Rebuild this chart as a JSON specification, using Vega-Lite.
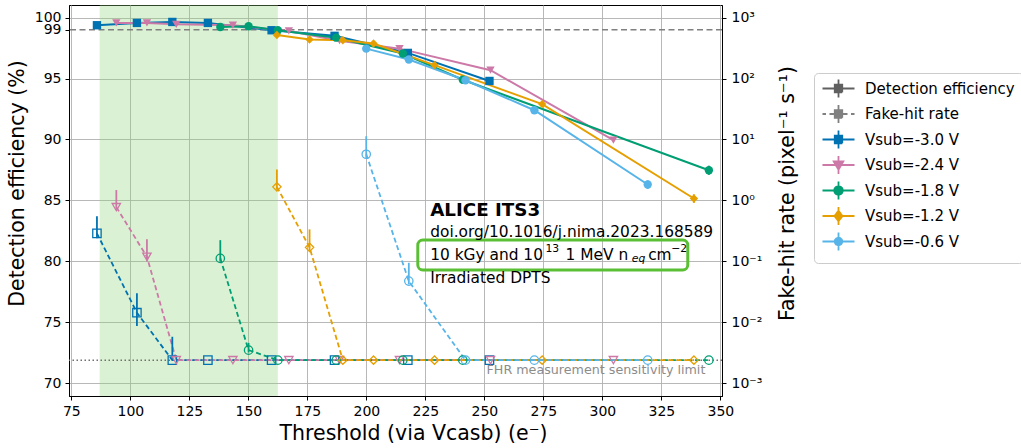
{
  "$schema": "https://vega.github.io/schema/vega-lite/v6.json",
  "width": 653,
  "height": 391,
  "autosize": {"type": "none"},
  "padding": {"left": 69, "top": 5, "right": 299, "bottom": 52},
  "background": "#ffffff",
  "config": {
    "font": "DejaVu Sans",
    "view": {"stroke": "#000000", "strokeWidth": 1},
    "axis": {
      "labelFont": "DejaVu Sans", "titleFont": "DejaVu Sans",
      "labelFontSize": 14, "titleFontSize": 20.5, "titleFontWeight": "normal",
      "labelColor": "#000000", "titleColor": "#000000",
      "tickColor": "#000000", "domainColor": "#000000", "tickSize": 4,
      "gridColor": "#b0b0b0", "gridWidth": 0.9, "labelOverlap": false
    }
  },
  "datasets": {
    "eff": [
      {"series": "Vsub=-3.0 V", "x": 85.84, "eff": 99.37},
      {"series": "Vsub=-3.0 V", "x": 102.78, "eff": 99.56},
      {"series": "Vsub=-3.0 V", "x": 117.78, "eff": 99.64},
      {"series": "Vsub=-3.0 V", "x": 132.86, "eff": 99.56},
      {"series": "Vsub=-3.0 V", "x": 159.84, "eff": 98.96},
      {"series": "Vsub=-3.0 V", "x": 186.52, "eff": 98.5},
      {"series": "Vsub=-3.0 V", "x": 217.57, "eff": 97.1},
      {"series": "Vsub=-3.0 V", "x": 252.17, "eff": 94.8},
      {"series": "Vsub=-2.4 V", "x": 94.06, "eff": 99.56},
      {"series": "Vsub=-2.4 V", "x": 107.02, "eff": 99.56},
      {"series": "Vsub=-2.4 V", "x": 119.47, "eff": 99.45},
      {"series": "Vsub=-2.4 V", "x": 143.44, "eff": 99.37},
      {"series": "Vsub=-2.4 V", "x": 167.16, "eff": 98.9},
      {"series": "Vsub=-2.4 V", "x": 188.64, "eff": 98.1},
      {"series": "Vsub=-2.4 V", "x": 214.05, "eff": 97.45},
      {"series": "Vsub=-2.4 V", "x": 252.6, "eff": 95.68},
      {"series": "Vsub=-2.4 V", "x": 304.69, "eff": 89.94},
      {"series": "Vsub=-1.8 V", "x": 138.11, "eff": 99.23},
      {"series": "Vsub=-1.8 V", "x": 150.09, "eff": 99.29},
      {"series": "Vsub=-1.8 V", "x": 162.5, "eff": 98.96},
      {"series": "Vsub=-1.8 V", "x": 187.24, "eff": 98.35},
      {"series": "Vsub=-1.8 V", "x": 215.45, "eff": 97.05},
      {"series": "Vsub=-1.8 V", "x": 240.86, "eff": 94.9},
      {"series": "Vsub=-1.8 V", "x": 345.14, "eff": 87.48, "lo": 87.1, "hi": 87.85},
      {"series": "Vsub=-1.2 V", "x": 162.08, "eff": 98.57},
      {"series": "Vsub=-1.2 V", "x": 175.93, "eff": 98.2},
      {"series": "Vsub=-1.2 V", "x": 190.04, "eff": 98.14},
      {"series": "Vsub=-1.2 V", "x": 203.04, "eff": 97.87},
      {"series": "Vsub=-1.2 V", "x": 228.88, "eff": 96.1},
      {"series": "Vsub=-1.2 V", "x": 274.49, "eff": 92.9},
      {"series": "Vsub=-1.2 V", "x": 338.8, "eff": 85.16, "lo": 84.8, "hi": 85.5},
      {"series": "Vsub=-0.6 V", "x": 199.95, "eff": 97.45},
      {"series": "Vsub=-0.6 V", "x": 217.99, "eff": 96.56},
      {"series": "Vsub=-0.6 V", "x": 242.0, "eff": 94.86},
      {"series": "Vsub=-0.6 V", "x": 271.2, "eff": 92.4},
      {"series": "Vsub=-0.6 V", "x": 319.22, "eff": 86.31, "lo": 85.95, "hi": 86.65}
    ],
    "fhr": [
      {"series": "Vsub=-3.0 V", "x": 85.84, "fhr": 0.288, "lo": 0.24, "hi": 0.55},
      {"series": "Vsub=-3.0 V", "x": 102.78, "fhr": 0.0144, "lo": 0.0087, "hi": 0.03},
      {"series": "Vsub=-3.0 V", "x": 117.78, "fhr": 0.0024, "lo": 0.0024, "hi": 0.0058},
      {"series": "Vsub=-3.0 V", "x": 132.86, "fhr": 0.0024},
      {"series": "Vsub=-3.0 V", "x": 159.84, "fhr": 0.0024},
      {"series": "Vsub=-3.0 V", "x": 186.52, "fhr": 0.0024},
      {"series": "Vsub=-3.0 V", "x": 217.57, "fhr": 0.0024},
      {"series": "Vsub=-3.0 V", "x": 252.17, "fhr": 0.0024},
      {"series": "Vsub=-2.4 V", "x": 94.06, "fhr": 0.776, "lo": 0.7, "hi": 1.48},
      {"series": "Vsub=-2.4 V", "x": 107.02, "fhr": 0.119, "lo": 0.1, "hi": 0.23},
      {"series": "Vsub=-2.4 V", "x": 119.47, "fhr": 0.0024},
      {"series": "Vsub=-2.4 V", "x": 143.44, "fhr": 0.0024},
      {"series": "Vsub=-2.4 V", "x": 167.16, "fhr": 0.0024},
      {"series": "Vsub=-2.4 V", "x": 188.64, "fhr": 0.0024},
      {"series": "Vsub=-2.4 V", "x": 214.05, "fhr": 0.0024},
      {"series": "Vsub=-2.4 V", "x": 252.6, "fhr": 0.0024},
      {"series": "Vsub=-2.4 V", "x": 304.69, "fhr": 0.0024},
      {"series": "Vsub=-1.8 V", "x": 138.11, "fhr": 0.112, "lo": 0.1, "hi": 0.223},
      {"series": "Vsub=-1.8 V", "x": 150.09, "fhr": 0.0035, "lo": 0.0032, "hi": 0.0046},
      {"series": "Vsub=-1.8 V", "x": 162.5, "fhr": 0.0024},
      {"series": "Vsub=-1.8 V", "x": 187.24, "fhr": 0.0024},
      {"series": "Vsub=-1.8 V", "x": 215.45, "fhr": 0.0024},
      {"series": "Vsub=-1.8 V", "x": 240.86, "fhr": 0.0024},
      {"series": "Vsub=-1.8 V", "x": 345.14, "fhr": 0.0024},
      {"series": "Vsub=-1.2 V", "x": 162.08, "fhr": 1.67, "lo": 1.5, "hi": 3.22},
      {"series": "Vsub=-1.2 V", "x": 175.93, "fhr": 0.17, "lo": 0.15, "hi": 0.335},
      {"series": "Vsub=-1.2 V", "x": 190.04, "fhr": 0.0024},
      {"series": "Vsub=-1.2 V", "x": 203.04, "fhr": 0.0024},
      {"series": "Vsub=-1.2 V", "x": 228.88, "fhr": 0.0024},
      {"series": "Vsub=-1.2 V", "x": 274.49, "fhr": 0.0024},
      {"series": "Vsub=-1.2 V", "x": 338.8, "fhr": 0.0024},
      {"series": "Vsub=-0.6 V", "x": 199.95, "fhr": 5.72, "lo": 5.0, "hi": 11.3},
      {"series": "Vsub=-0.6 V", "x": 217.99, "fhr": 0.0475, "lo": 0.042, "hi": 0.0948},
      {"series": "Vsub=-0.6 V", "x": 242.0, "fhr": 0.0024},
      {"series": "Vsub=-0.6 V", "x": 271.2, "fhr": 0.0024},
      {"series": "Vsub=-0.6 V", "x": 319.22, "fhr": 0.0024}
    ],
    "boldnote": [{"t": "ALICE ITS3", "x": 227.05, "y": 84.16}],
    "note": [
      {"t": "doi.org/10.1016/j.nima.2023.168589", "x": 227.05, "y": 82.4},
      {"t": "10 kGy and 10", "x": 227.05, "y": 80.5},
      {"t": "1 MeV n", "x": 284.4, "y": 80.5},
      {"t": "cm", "x": 319.4, "y": 80.5},
      {"t": "Irradiated DPTS", "x": 227.05, "y": 78.67}
    ],
    "supnote": [
      {"t": "13", "x": 275.9, "y": 80.5},
      {"t": "−2", "x": 329.2, "y": 80.5}
    ],
    "subnote": [{"t": "eq", "x": 312.5, "y": 80.5}],
    "limitnote": [{"t": "FHR measurement sensitivity limit", "x": 343.65, "y": 71.09}]
  },
  "layer": [
    {
      "layer": [
        {
          "data": {"values": [{}]},
          "mark": {"type": "rect", "fill": "#8FD97A", "opacity": 0.33},
          "encoding": {
            "x": {"datum": 87.0, "type": "quantitative",
                  "scale": {"domain": [74, 350.7], "nice": false, "zero": false},
                  "axis": {"title": "Threshold (via Vcasb) (e⁻)", "values": [75,100,125,150,175,200,225,250,275,300,325,350], "grid": true, "labelPadding": 4, "titlePadding": 5, "titleX": 344}},
            "x2": {"datum": 162.5},
            "y": {"datum": 68.96, "type": "quantitative", "scale": {"domain": [68.96, 101.03], "nice": false, "zero": false}},
            "y2": {"datum": 101.03}
          }
        },
        {
          "data": {"values": [{}]},
          "mark": {"type": "rule", "stroke": "#808080", "strokeDash": [6, 3.5], "strokeWidth": 1.6},
          "encoding": {
            "y": {"datum": 99, "type": "quantitative", "scale": {"domain": [68.96, 101.03], "nice": false, "zero": false}}
          }
        },
        {
          "data": {"name": "eff"},
          "mark": {"type": "line", "strokeWidth": 2},
          "encoding": {
            "x": {"field": "x", "type": "quantitative", "scale": {"domain": [74, 350.7], "nice": false, "zero": false}},
            "y": {"field": "eff", "type": "quantitative",
                  "scale": {"domain": [68.96, 101.03], "nice": false, "zero": false},
                  "axis": {"title": "Detection efficiency (%)", "values": [70,75,80,85,90,95,99,100], "grid": false, "labelPadding": 4, "titlePadding": 7, "titleY": 178}},
            "color": {"field": "series", "type": "nominal",
              "scale": {"domain": ["Detection efficiency", "Fake-hit rate", "Vsub=-3.0 V", "Vsub=-2.4 V", "Vsub=-1.8 V", "Vsub=-1.2 V", "Vsub=-0.6 V"],
                        "range": ["#606060", "#808080", "#0072B2", "#CC79A7", "#009E73", "#E69F00", "#56B4E9"]},
              "legend": {
                "title": null, "orient": "none", "legendX": 745, "legendY": 68, "direction": "vertical",
                "labelFont": "DejaVu Sans", "labelFontSize": 15, "labelColor": "#000000", "labelLimit": 300,
                "symbolSize": 100, "symbolOffset": 9, "labelOffset": 19, "rowPadding": -1.5, "padding": 8,
                "strokeColor": "#cccccc", "fillColor": "#ffffff", "cornerRadius": 4,
                "encode": {
                  "symbols": {
                    "update": {
                      "shape": {"signal": "datum.value === 'Detection efficiency' ? 'M-3.2,0H3.2M0,-1.8V1.8M-0.75,-0.75H0.75V0.75H-0.75Z' : datum.value === 'Fake-hit rate' ? 'M-3.2,0H-2.5M-1.8,0H-0.75M0.75,0H1.8M2.5,0H3.2M0,-1.8V1.8M-0.75,-0.75H0.75V0.75H-0.75Z' : datum.value === 'Vsub=-3.0 V' ? 'M-3.2,0H3.2M0,-1.8V1.8M-0.75,-0.75H0.75V0.75H-0.75Z' : datum.value === 'Vsub=-2.4 V' ? 'M-3.2,0H3.2M0,-1.8V1.8M-0.95,-0.7H0.95L0,0.95Z' : datum.value === 'Vsub=-1.8 V' ? 'M-3.2,0H3.2M0,-1.8V1.8M-0.85,0A0.85,0.85 0 1,0 0.85,0A0.85,0.85 0 1,0 -0.85,0Z' : datum.value === 'Vsub=-1.2 V' ? 'M-3.2,0H3.2M0,-1.8V1.8M0,-1.05L0.8,0L0,1.05L-0.8,0Z' : 'M-3.2,0H3.2M0,-1.8V1.8M-0.75,0A0.75,0.75 0 1,0 0.75,0A0.75,0.75 0 1,0 -0.75,0Z'"},
                      "stroke": {"scale": "color", "field": "value"},
                      "fill": {"signal": "datum.value === 'Fake-hit rate' ? 'transparent' : scale('color', datum.value)"},
                      "strokeWidth": {"value": 1.8},
                      "strokeDash": {"value": [1, 0]},
                      "opacity": {"value": 1}
                    }
                  }
                }
              }
            }
          }
        },
        {
          "data": {"name": "eff"},
          "transform": [{"filter": "datum.hi != null"}],
          "mark": {"type": "rule", "strokeWidth": 2},
          "encoding": {
            "x": {"field": "x", "type": "quantitative", "scale": {"domain": [74, 350.7], "nice": false, "zero": false}},
            "y": {"field": "lo", "type": "quantitative", "scale": {"domain": [68.96, 101.03], "nice": false, "zero": false}},
            "y2": {"field": "hi"},
            "color": {"field": "series", "type": "nominal"}
          }
        },
        {
          "data": {"name": "eff"},
          "mark": {"type": "point", "filled": true, "size": 70, "opacity": 1},
          "encoding": {
            "x": {"field": "x", "type": "quantitative", "scale": {"domain": [74, 350.7], "nice": false, "zero": false}},
            "y": {"field": "eff", "type": "quantitative", "scale": {"domain": [68.96, 101.03], "nice": false, "zero": false}},
            "color": {"field": "series", "type": "nominal"},
            "shape": {"field": "series", "type": "nominal",
              "scale": {"domain": ["Vsub=-3.0 V", "Vsub=-2.4 V", "Vsub=-1.8 V", "Vsub=-1.2 V", "Vsub=-0.6 V"],
                        "range": ["square", "triangle-down", "circle", "diamond", "circle"]},
              "legend": null}
          }
        },
        {
          "data": {"values": [{}]},
          "mark": {"type": "rect", "fillOpacity": 0, "stroke": "#5BBF35", "strokeWidth": 3, "cornerRadius": 5},
          "encoding": {
            "x": {"datum": 221.8, "type": "quantitative"},
            "x2": {"datum": 336.2},
            "y": {"datum": 81.75, "type": "quantitative"},
            "y2": {"datum": 79.3}
          }
        },
        {
          "data": {"name": "boldnote"},
          "mark": {"type": "text", "align": "left", "baseline": "middle", "fontSize": 18.3, "fontWeight": "bold", "font": "DejaVu Sans", "color": "#000000"},
          "encoding": {
            "x": {"field": "x", "type": "quantitative"},
            "y": {"field": "y", "type": "quantitative"},
            "text": {"field": "t"}
          }
        },
        {
          "data": {"name": "note"},
          "mark": {"type": "text", "align": "left", "baseline": "middle", "fontSize": 15.4, "font": "DejaVu Sans", "color": "#000000"},
          "encoding": {
            "x": {"field": "x", "type": "quantitative"},
            "y": {"field": "y", "type": "quantitative"},
            "text": {"field": "t"}
          }
        },
        {
          "data": {"name": "supnote"},
          "mark": {"type": "text", "align": "left", "baseline": "middle", "fontSize": 10.8, "dy": -6, "font": "DejaVu Sans", "color": "#000000"},
          "encoding": {
            "x": {"field": "x", "type": "quantitative"},
            "y": {"field": "y", "type": "quantitative"},
            "text": {"field": "t"}
          }
        },
        {
          "data": {"name": "subnote"},
          "mark": {"type": "text", "align": "left", "baseline": "middle", "fontSize": 10.8, "dy": 4, "fontStyle": "italic", "font": "DejaVu Sans", "color": "#000000"},
          "encoding": {
            "x": {"field": "x", "type": "quantitative"},
            "y": {"field": "y", "type": "quantitative"},
            "text": {"field": "t"}
          }
        },
        {
          "data": {"name": "limitnote"},
          "mark": {"type": "text", "align": "right", "baseline": "middle", "fontSize": 12.7, "font": "DejaVu Sans", "color": "#8c8c8c"},
          "encoding": {
            "x": {"field": "x", "type": "quantitative"},
            "y": {"field": "y", "type": "quantitative"},
            "text": {"field": "t"}
          }
        }
      ]
    },
    {
      "layer": [
        {
          "data": {"values": [{}]},
          "mark": {"type": "rule", "stroke": "#707070", "strokeDash": [1.5, 2.5], "strokeWidth": 1.5},
          "encoding": {
            "y": {"datum": 0.0024, "type": "quantitative", "scale": {"type": "log", "domain": [0.000619, 1607], "nice": false}}
          }
        },
        {
          "data": {"name": "fhr"},
          "mark": {"type": "line", "strokeWidth": 1.8, "strokeDash": [5, 3]},
          "encoding": {
            "x": {"field": "x", "type": "quantitative", "scale": {"domain": [74, 350.7], "nice": false, "zero": false}},
            "y": {"field": "fhr", "type": "quantitative",
                  "scale": {"type": "log", "domain": [0.000619, 1607], "nice": false},
                  "axis": {"orient": "right", "title": "Fake-hit rate (pixel⁻¹ s⁻¹)", "titleAngle": 270, "titleBaseline": "top", "values": [0.001, 0.01, 0.1, 1, 10, 100, 1000], "grid": true, "labelPadding": 5, "titlePadding": 16, "titleY": 188,
                           "labelExpr": "datum.value >= 999 ? '10³' : datum.value >= 99 ? '10²' : datum.value >= 9 ? '10¹' : datum.value >= 0.9 ? '10⁰' : datum.value >= 0.09 ? '10⁻¹' : datum.value >= 0.009 ? '10⁻²' : '10⁻³'"}},
            "color": {"field": "series", "type": "nominal"}
          }
        },
        {
          "data": {"name": "fhr"},
          "transform": [{"filter": "datum.hi != null"}],
          "mark": {"type": "rule", "strokeWidth": 1.8},
          "encoding": {
            "x": {"field": "x", "type": "quantitative", "scale": {"domain": [74, 350.7], "nice": false, "zero": false}},
            "y": {"field": "lo", "type": "quantitative", "scale": {"type": "log", "domain": [0.000619, 1607], "nice": false}},
            "y2": {"field": "hi"},
            "color": {"field": "series", "type": "nominal"}
          }
        },
        {
          "data": {"name": "fhr"},
          "mark": {"type": "point", "filled": false, "size": 70, "strokeWidth": 1.3, "fill": "#ffffff", "fillOpacity": 0, "opacity": 1},
          "encoding": {
            "x": {"field": "x", "type": "quantitative", "scale": {"domain": [74, 350.7], "nice": false, "zero": false}},
            "y": {"field": "fhr", "type": "quantitative", "scale": {"type": "log", "domain": [0.000619, 1607], "nice": false}},
            "color": {"field": "series", "type": "nominal"},
            "shape": {"field": "series", "type": "nominal", "legend": null}
          }
        }
      ]
    }
  ],
  "resolve": {"scale": {"y": "independent"}}
}
